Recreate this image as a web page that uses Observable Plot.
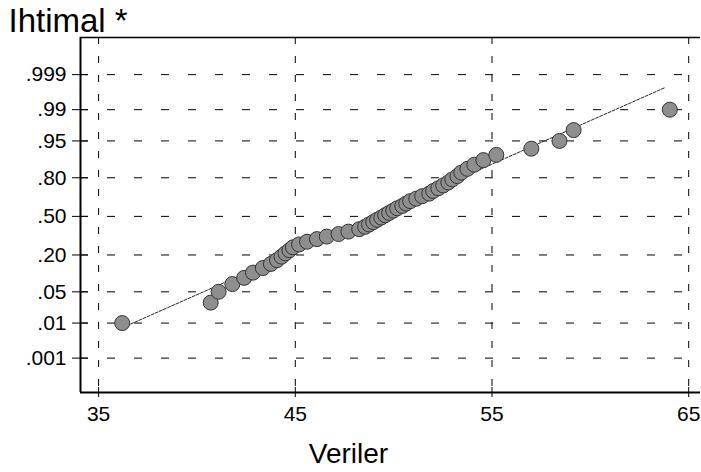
<!DOCTYPE html>
<html><head><meta charset="utf-8">
<script src="https://cdn.jsdelivr.net/npm/d3@7"></script>
<script src="https://cdn.jsdelivr.net/npm/@observablehq/plot@0.6"></script>
<style>body{margin:0;background:#fff}#chart svg{display:block}</style>
</head><body><div id="chart"></div>
<script>
// Sorted observations (Veriler)
const values = [36.2, 40.7, 41.1, 41.8, 42.4, 42.85, 43.35, 43.76, 44.07, 44.3,
  44.5, 44.7, 44.88, 45.19, 45.6, 46.1, 46.6, 47.2, 47.7, 48.25,
  48.55, 48.75, 48.96, 49.16, 49.37, 49.57, 49.77, 49.98, 50.18, 50.44,
  50.64, 50.84, 51.15, 51.45, 51.81, 52.01, 52.27, 52.52, 52.78, 52.98,
  53.24, 53.44, 53.75, 54.1, 54.56, 55.22, 57.0, 58.43, 59.15, 64.04];
// Plotted probabilities (Ihtimal)
const probs = [0.01, 0.03, 0.05, 0.07, 0.09, 0.11, 0.13, 0.15, 0.17, 0.19,
  0.21, 0.23, 0.25, 0.27, 0.29, 0.31, 0.33, 0.35, 0.37, 0.39,
  0.41, 0.43, 0.45, 0.47, 0.49, 0.51, 0.53, 0.55, 0.57, 0.59,
  0.61, 0.63, 0.65, 0.67, 0.69, 0.71, 0.73, 0.75, 0.77, 0.79,
  0.81, 0.83, 0.85, 0.87, 0.89, 0.91, 0.93, 0.95, 0.97, 0.99];
const yTickProbs = [0.001, 0.01, 0.05, 0.20, 0.50, 0.80, 0.95, 0.99, 0.999];
const yTickLabels = [".001", ".01", ".05", ".20", ".50", ".80", ".95", ".99", ".999"];
const xTicks = [35, 45, 55, 65];
const xTickLabels = ["35", "45", "55", "65"];
const fitMean = 49.0;
const fitSD = 5.27;
const fitRange = [36.0, 63.8];

// inverse standard normal CDF (probability axis transform)
function qnorm(p) {
  const a = [-3.969683028665376e+01, 2.209460984245205e+02, -2.759285104469687e+02, 1.383577518672690e+02, -3.066479806614716e+01, 2.506628277459239e+00];
  const b = [-5.447609879822406e+01, 1.615858368580409e+02, -1.556989798598866e+02, 6.680131188771972e+01, -1.328068155288572e+01];
  const c = [-7.784894002430293e-03, -3.223964580411365e-01, -2.400758277161838e+00, -2.549732539343734e+00, 4.374664141464968e+00, 2.938163982698783e+00];
  const d = [7.784695709041462e-03, 3.224671290700398e-01, 2.445134137142996e+00, 3.754408661907416e+00];
  const pl = 0.02425, ph = 1 - pl;
  let q, r;
  if (p < pl) {
    q = Math.sqrt(-2 * Math.log(p));
    return (((((c[0]*q+c[1])*q+c[2])*q+c[3])*q+c[4])*q+c[5]) / ((((d[0]*q+d[1])*q+d[2])*q+d[3])*q+1);
  } else if (p <= ph) {
    q = p - 0.5; r = q * q;
    return (((((a[0]*r+a[1])*r+a[2])*r+a[3])*r+a[4])*r+a[5])*q / (((((b[0]*r+b[1])*r+b[2])*r+b[3])*r+b[4])*r+1);
  } else {
    q = Math.sqrt(-2 * Math.log(1 - p));
    return -(((((c[0]*q+c[1])*q+c[2])*q+c[3])*q+c[4])*q+c[5]) / ((((d[0]*q+d[1])*q+d[2])*q+d[3])*q+1);
  }
}

const points = values.map((v, i) => ({x: v, z: qnorm(probs[i])}));
const zTicks = yTickProbs.map(qnorm);
const zLabel = new Map(zTicks.map((z, i) => [z, yTickLabels[i]]));
const xLabel = new Map(xTicks.map((x, i) => [x, xTickLabels[i]]));
const fitLine = fitRange.map(x => ({x, z: (x - fitMean) / fitSD}));

const W = 701, H = 472, mL = 80, mR = 1, mT = 37, mB = 80;
const xDomain = [34.08, 65.6];
const yDomain = [-3.84, 3.9];
const font = "'Liberation Sans', Arial, sans-serif";

const chart = Plot.plot({
  width: W, height: H,
  marginLeft: mL, marginRight: mR, marginTop: mT, marginBottom: mB,
  style: {fontFamily: font, background: "#fff", color: "#000"},
  x: {domain: xDomain},
  y: {domain: yDomain},
  marks: [
    Plot.gridX(xTicks, {stroke: "#000", strokeOpacity: 1, strokeWidth: 1, strokeDasharray: "7,12"}),
    Plot.gridY(zTicks, {stroke: "#000", strokeOpacity: 1, strokeWidth: 1, strokeDasharray: "8,19"}),
    Plot.ruleX([xDomain[0]], {stroke: "#000", strokeWidth: 2}),
    Plot.ruleY([yDomain[0]], {stroke: "#000", strokeWidth: 2}),
    Plot.ruleY([yDomain[1]], {stroke: "#000", strokeWidth: 1.5}),
    Plot.axisY(zTicks, {tickSize: 8, tickPadding: 6, fontSize: 21, letterSpacing: "-1px",
      tickFormat: d => zLabel.get(d), label: null}),
    Plot.tickY(zTicks, {y: d => d, stroke: "#000", insetRight: (W - mL - mR) - 8}),
    Plot.axisX(xTicks, {tickSize: 5, tickPadding: 9, fontSize: 21, letterSpacing: "-1px",
      tickFormat: d => xLabel.get(d), label: null}),
    Plot.tickX(xTicks, {x: d => d, stroke: "#000", insetTop: (H - mT - mB) - 5}),
    Plot.line(fitLine, {x: "x", y: "z", stroke: "#222", strokeWidth: 1, strokeDasharray: "3,1.5"}),
    Plot.dot(points, {x: "x", y: "z", r: 7.5, fill: "#8e8e8e", stroke: "#333", strokeWidth: 1}),
    Plot.text(["Ihtimal *"], {frameAnchor: "top-left", textAnchor: "start", lineAnchor: "bottom",
      dx: -72, dy: -6, fontSize: 33, letterSpacing: "1px", fill: "#000"}),
    Plot.text(["Veriler"], {frameAnchor: "bottom", textAnchor: "middle", lineAnchor: "bottom",
      dx: -42, dy: 70, fontSize: 28, letterSpacing: "1.5px", fill: "#000"})
  ]
});
document.getElementById("chart").appendChild(chart);
</script>
</body></html>
